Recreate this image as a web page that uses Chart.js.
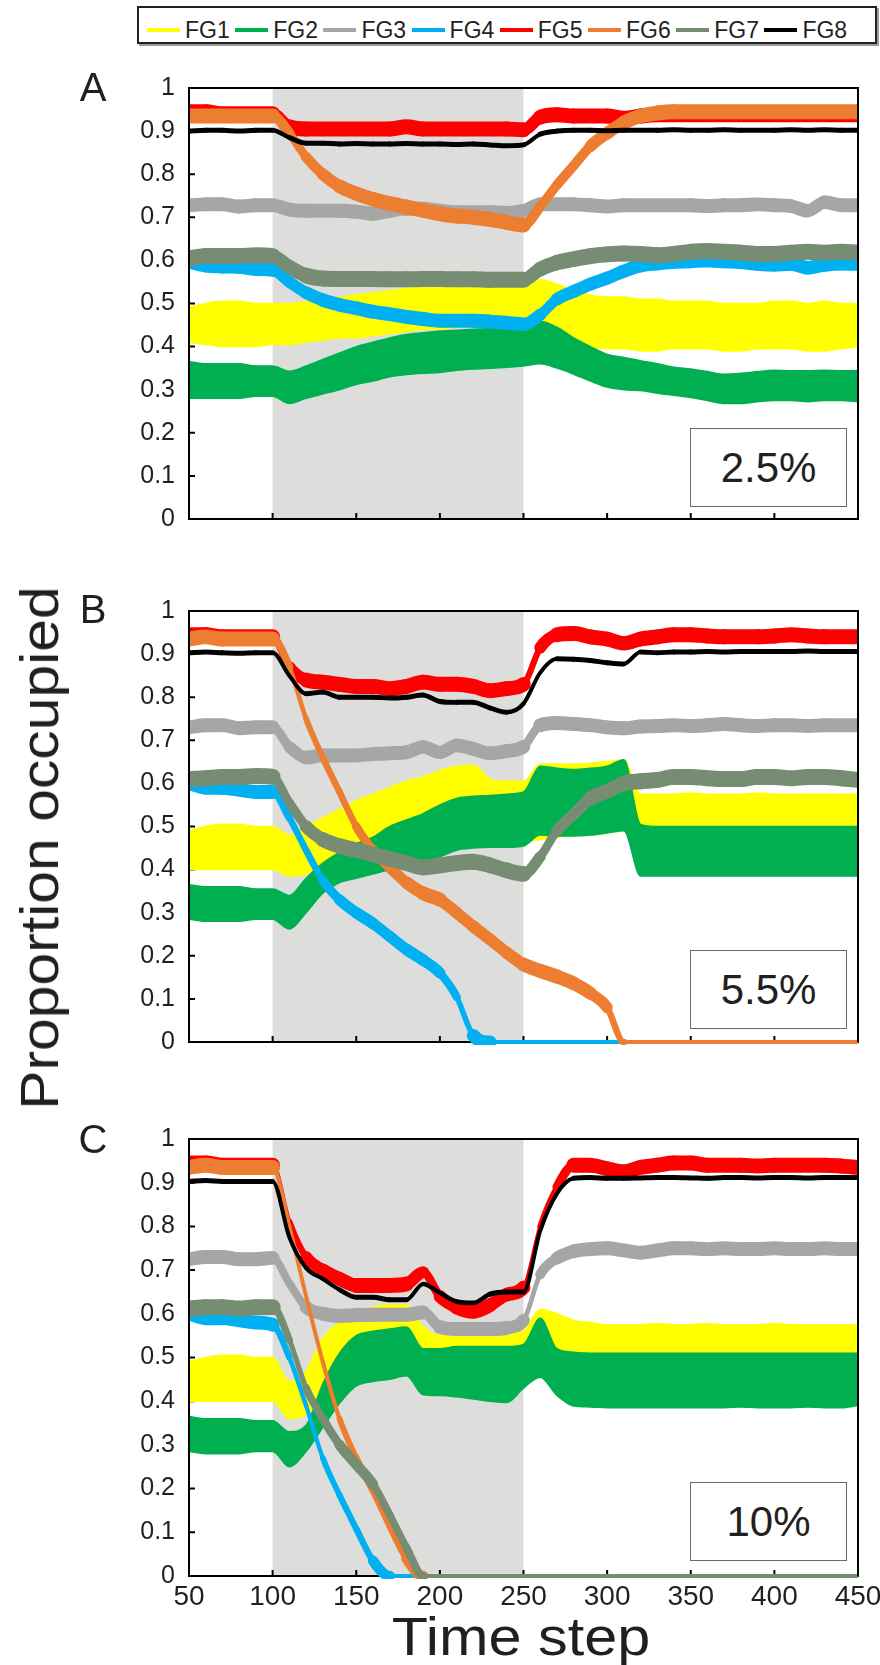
<!DOCTYPE html>
<html>
<head>
<meta charset="utf-8">
<title>Proportion occupied by functional group</title>
<script src="https://cdn.jsdelivr.net/npm/chart.js@4.4.1/dist/chart.umd.min.js"></script>
<style>
  body { margin: 0; background: #fff; }
  #page { position: relative; width: 880px; height: 1665px; overflow: hidden;
          font-family: "Liberation Sans", Arial, sans-serif; color: #231f20; }
  #page canvas { position: absolute; left: 0; }
  #legend { position: absolute; left: 137px; top: 6px; width: 736px; height: 34px;
            border: 2px solid #222; box-shadow: 2px 2px 0 #9a9a9a; background: #fff; }
  .key { position: absolute; top: 20px; width: 33px; height: 4px; }
  .keyText { position: absolute; top: 9px; font-size: 23px; line-height: 26px; }
  .letter { position: absolute; font-size: 40px; line-height: 40px; transform: translate(-50%, -50%); }
  .pct { position: absolute; left: 690px; width: 155px; height: 77px; border: 1.5px solid #6a6a6a;
         background: #fff; display: flex; align-items: center; justify-content: center; font-size: 42px; }
  #ytitle { position: absolute; left: 39px; top: 848px; font-size: 54px; line-height: 54px; white-space: nowrap;
            transform: translate(-50%, -50%) rotate(-90deg) scaleX(1.09); }
  #xtitle { position: absolute; left: 521px; top: 1609px; font-size: 54px; line-height: 54px; white-space: nowrap;
            transform: translateX(-50%) scaleX(1.1); }
</style>
</head>
<body>
<div id="page">
  <div id="legend"></div>
  <canvas id="chartA" width="880" height="500" style="top:48px"></canvas>
  <canvas id="chartB" width="880" height="500" style="top:571px"></canvas>
  <canvas id="chartC" width="880" height="527" style="top:1099px"></canvas>
  <div class="letter" style="left:93px; top:87px">A</div>
  <div class="letter" style="left:93px; top:609px">B</div>
  <div class="letter" style="left:93px; top:1139px">C</div>
  <div class="pct" style="top:428px">2.5%</div>
  <div class="pct" style="top:950px">5.5%</div>
  <div class="pct" style="top:1482px">10%</div>
  <div id="ytitle">Proportion occupied</div>
  <div id="xtitle">Time step</div>
</div>
<script>
// time axis, sampled every 10 steps
const steps = [50, 60, 70, 80, 90, 100, 110, 120, 130, 140, 150, 160, 170, 180, 190, 200,
  210, 220, 230, 240, 250, 260, 270, 280, 290, 300, 310, 320, 330, 340, 350,
  360, 370, 380, 390, 400, 410, 420, 430, 440, 450];
const xTicks = [50, 100, 150, 200, 250, 300, 350, 400, 450];
const yTicks = [0, 0.1, 0.2, 0.3, 0.4, 0.5, 0.6, 0.7, 0.8, 0.9, 1];
const shadeRange = [100, 250];
const groups = ['FG1', 'FG2', 'FG3', 'FG4', 'FG5', 'FG6', 'FG7', 'FG8'];
const groupColors = ['#ffff00', '#00b050', '#a6a6a6', '#00b0f0', '#ff0000', '#ed7d31', '#768d73', '#000000'];

// ---- panel A (2.5%) ----
const fg1LoA = [0.41, 0.405, 0.40, 0.40, 0.40, 0.405, 0.405, 0.41, 0.415, 0.42, 0.42, 0.425, 0.43, 0.435, 0.44, 0.44,
  0.445, 0.445, 0.445, 0.445, 0.44, 0.43, 0.42, 0.41, 0.40, 0.395, 0.395, 0.39, 0.39, 0.395, 0.395,
  0.395, 0.39, 0.39, 0.395, 0.395, 0.395, 0.39, 0.39, 0.395, 0.40];
const fg1HiA = [0.49, 0.50, 0.505, 0.505, 0.50, 0.50, 0.50, 0.505, 0.51, 0.515, 0.52, 0.525, 0.53, 0.535, 0.54, 0.545,
  0.545, 0.545, 0.548, 0.55, 0.55, 0.555, 0.545, 0.53, 0.52, 0.515, 0.515, 0.51, 0.51, 0.505, 0.505,
  0.505, 0.50, 0.50, 0.50, 0.505, 0.505, 0.50, 0.505, 0.50, 0.50];
const fg2LoA = [0.28, 0.28, 0.28, 0.28, 0.285, 0.285, 0.268, 0.28, 0.29, 0.30, 0.312, 0.32, 0.33, 0.335, 0.338, 0.34,
  0.345, 0.348, 0.35, 0.352, 0.355, 0.36, 0.35, 0.336, 0.32, 0.306, 0.30, 0.298, 0.292, 0.287, 0.282,
  0.275, 0.268, 0.268, 0.272, 0.275, 0.275, 0.272, 0.275, 0.275, 0.272];
const fg2HiA = [0.365, 0.36, 0.36, 0.36, 0.355, 0.355, 0.343, 0.355, 0.37, 0.385, 0.40, 0.41, 0.42, 0.428, 0.432, 0.436,
  0.438, 0.44, 0.442, 0.445, 0.448, 0.458, 0.445, 0.42, 0.40, 0.382, 0.375, 0.367, 0.36, 0.352, 0.348,
  0.342, 0.336, 0.338, 0.342, 0.345, 0.344, 0.344, 0.345, 0.344, 0.344];
const fg3A = [0.728, 0.73, 0.73, 0.725, 0.728, 0.728, 0.718, 0.715, 0.715, 0.715, 0.713, 0.708, 0.715, 0.72, 0.72, 0.715,
  0.712, 0.712, 0.712, 0.71, 0.715, 0.73, 0.73, 0.73, 0.728, 0.725, 0.728, 0.728, 0.728, 0.728, 0.728,
  0.726, 0.728, 0.728, 0.73, 0.728, 0.726, 0.715, 0.735, 0.728, 0.728];
const fg4A = [0.597, 0.588, 0.586, 0.585, 0.58, 0.578, 0.55, 0.525, 0.508, 0.497, 0.489, 0.481, 0.475, 0.469, 0.464, 0.46,
  0.46, 0.46, 0.458, 0.455, 0.452, 0.474, 0.51, 0.528, 0.545, 0.559, 0.575, 0.588, 0.593, 0.597, 0.598,
  0.60, 0.598, 0.596, 0.592, 0.59, 0.592, 0.583, 0.59, 0.593, 0.592];
const fg5A = [0.945, 0.945, 0.94, 0.94, 0.94, 0.94, 0.91, 0.905, 0.905, 0.905, 0.905, 0.905, 0.905, 0.91, 0.905, 0.905,
  0.905, 0.905, 0.905, 0.905, 0.903, 0.932, 0.938, 0.935, 0.935, 0.935, 0.93, 0.935, 0.938, 0.938, 0.938,
  0.938, 0.938, 0.938, 0.938, 0.938, 0.938, 0.938, 0.938, 0.938, 0.938];
const fg6A = [0.935, 0.935, 0.935, 0.935, 0.935, 0.935, 0.895, 0.84, 0.80, 0.772, 0.755, 0.742, 0.732, 0.724, 0.716, 0.708,
  0.703, 0.70, 0.695, 0.688, 0.682, 0.725, 0.775, 0.82, 0.865, 0.895, 0.92, 0.935, 0.942, 0.945, 0.945,
  0.945, 0.945, 0.945, 0.945, 0.945, 0.945, 0.945, 0.945, 0.945, 0.945];
const fg7A = [0.605, 0.61, 0.61, 0.61, 0.612, 0.61, 0.585, 0.565, 0.558, 0.557, 0.557, 0.557, 0.556, 0.556, 0.557, 0.557,
  0.556, 0.556, 0.555, 0.555, 0.555, 0.58, 0.595, 0.603, 0.61, 0.614, 0.616, 0.615, 0.612, 0.615, 0.62,
  0.622, 0.62, 0.618, 0.615, 0.615, 0.618, 0.62, 0.618, 0.62, 0.618];
const fg8A = [0.90, 0.902, 0.902, 0.90, 0.902, 0.902, 0.885, 0.872, 0.872, 0.87, 0.871, 0.87, 0.87, 0.871, 0.87, 0.87,
  0.869, 0.87, 0.868, 0.866, 0.868, 0.893, 0.90, 0.902, 0.902, 0.901, 0.902, 0.902, 0.902, 0.903, 0.902,
  0.902, 0.903, 0.902, 0.902, 0.902, 0.903, 0.902, 0.903, 0.902, 0.902];

// ---- panel B (5.5%) ----
const fg1LoB = [0.40, 0.40, 0.40, 0.40, 0.40, 0.40, 0.385, 0.39, 0.40, 0.41, 0.425, 0.435, 0.445, 0.455, 0.46, 0.465,
  0.47, 0.475, 0.475, 0.47, 0.465, 0.47, 0.475, 0.48, 0.48, 0.485, 0.49, 0.50, 0.50, 0.50, 0.50,
  0.50, 0.50, 0.50, 0.50, 0.50, 0.50, 0.50, 0.50, 0.50, 0.50];
const fg1HiB = [0.49, 0.50, 0.505, 0.505, 0.50, 0.50, 0.48, 0.50, 0.52, 0.54, 0.56, 0.575, 0.59, 0.605, 0.615, 0.63,
  0.64, 0.642, 0.61, 0.605, 0.605, 0.645, 0.645, 0.645, 0.647, 0.65, 0.655, 0.575, 0.575, 0.575, 0.578,
  0.575, 0.575, 0.575, 0.578, 0.575, 0.575, 0.575, 0.575, 0.575, 0.575];
const fg2LoB = [0.285, 0.28, 0.28, 0.28, 0.285, 0.285, 0.262, 0.30, 0.345, 0.37, 0.38, 0.39, 0.40, 0.41, 0.42, 0.43,
  0.445, 0.45, 0.452, 0.452, 0.455, 0.48, 0.478, 0.478, 0.48, 0.485, 0.49, 0.385, 0.385, 0.385, 0.385,
  0.385, 0.385, 0.385, 0.385, 0.385, 0.385, 0.385, 0.385, 0.385, 0.385];
const fg2HiB = [0.365, 0.36, 0.36, 0.36, 0.355, 0.355, 0.34, 0.38, 0.415, 0.44, 0.46, 0.475, 0.50, 0.515, 0.53, 0.55,
  0.565, 0.57, 0.572, 0.575, 0.58, 0.64, 0.635, 0.632, 0.635, 0.64, 0.655, 0.505, 0.50, 0.50, 0.50,
  0.50, 0.50, 0.50, 0.50, 0.50, 0.50, 0.50, 0.50, 0.50, 0.50];
const fg3B = [0.73, 0.735, 0.735, 0.728, 0.73, 0.73, 0.685, 0.66, 0.665, 0.665, 0.665, 0.668, 0.67, 0.672, 0.685, 0.672,
  0.688, 0.68, 0.67, 0.675, 0.685, 0.735, 0.74, 0.738, 0.735, 0.73, 0.728, 0.732, 0.733, 0.735, 0.733,
  0.735, 0.738, 0.735, 0.733, 0.735, 0.735, 0.733, 0.735, 0.735, 0.735];
const fg4B = [0.60, 0.59, 0.59, 0.585, 0.58, 0.58, 0.52, 0.445, 0.375, 0.33, 0.30, 0.275, 0.245, 0.215, 0.19, 0.16,
  0.105, 0.015, 0, 0, 0, 0, 0, 0, 0, 0, 0, 0, 0, 0, 0,
  0, 0, 0, 0, 0, 0, 0, 0, 0, 0];
const fg5B = [0.945, 0.945, 0.94, 0.94, 0.94, 0.94, 0.87, 0.84, 0.835, 0.83, 0.825, 0.825, 0.82, 0.825, 0.835, 0.83,
  0.83, 0.825, 0.815, 0.82, 0.83, 0.915, 0.945, 0.948, 0.94, 0.935, 0.925, 0.935, 0.94, 0.945, 0.945,
  0.942, 0.94, 0.94, 0.94, 0.942, 0.945, 0.942, 0.94, 0.94, 0.94];
const fg6B = [0.935, 0.94, 0.935, 0.935, 0.935, 0.935, 0.87, 0.75, 0.66, 0.58, 0.50, 0.445, 0.405, 0.37, 0.345, 0.33,
  0.30, 0.268, 0.238, 0.207, 0.18, 0.165, 0.152, 0.136, 0.113, 0.08, 0, 0, 0, 0, 0,
  0, 0, 0, 0, 0, 0, 0, 0, 0, 0];
const fg7B = [0.61, 0.612, 0.615, 0.615, 0.617, 0.615, 0.555, 0.50, 0.47, 0.455, 0.445, 0.435, 0.425, 0.415, 0.405, 0.41,
  0.415, 0.418, 0.41, 0.398, 0.39, 0.43, 0.49, 0.528, 0.565, 0.582, 0.60, 0.605, 0.608, 0.615, 0.615,
  0.612, 0.61, 0.61, 0.615, 0.615, 0.612, 0.615, 0.615, 0.612, 0.608];
const fg8B = [0.903, 0.905, 0.903, 0.902, 0.903, 0.903, 0.85, 0.808, 0.812, 0.80, 0.80, 0.80, 0.798, 0.80, 0.805, 0.79,
  0.788, 0.788, 0.775, 0.765, 0.785, 0.857, 0.889, 0.888, 0.885, 0.88, 0.877, 0.905, 0.903, 0.905, 0.905,
  0.906, 0.905, 0.906, 0.906, 0.906, 0.906, 0.907, 0.906, 0.906, 0.906];

// ---- panel C (10%) ----
const fg1LoC = [0.40, 0.40, 0.40, 0.40, 0.40, 0.40, 0.36, 0.37, 0.41, 0.43, 0.44, 0.45, 0.455, 0.46, 0.44, 0.43,
  0.43, 0.43, 0.43, 0.43, 0.44, 0.46, 0.455, 0.45, 0.445, 0.445, 0.445, 0.445, 0.445, 0.445, 0.445,
  0.445, 0.445, 0.445, 0.445, 0.445, 0.445, 0.445, 0.445, 0.445, 0.445];
const fg1HiC = [0.49, 0.50, 0.505, 0.505, 0.50, 0.50, 0.445, 0.47, 0.545, 0.58, 0.60, 0.615, 0.62, 0.62, 0.57, 0.55,
  0.55, 0.55, 0.555, 0.555, 0.56, 0.61, 0.60, 0.585, 0.58, 0.575, 0.575, 0.575, 0.578, 0.575, 0.575,
  0.578, 0.575, 0.575, 0.575, 0.578, 0.575, 0.575, 0.575, 0.575, 0.575];
const fg2LoC = [0.285, 0.28, 0.28, 0.28, 0.285, 0.285, 0.25, 0.285, 0.34, 0.395, 0.435, 0.445, 0.45, 0.458, 0.415, 0.413,
  0.41, 0.405, 0.40, 0.397, 0.43, 0.455, 0.413, 0.389, 0.387, 0.385, 0.385, 0.385, 0.385, 0.385, 0.385,
  0.385, 0.385, 0.387, 0.385, 0.385, 0.385, 0.387, 0.385, 0.385, 0.39];
const fg2HiC = [0.365, 0.36, 0.36, 0.36, 0.355, 0.355, 0.33, 0.345, 0.44, 0.51, 0.55, 0.56, 0.565, 0.57, 0.52, 0.52,
  0.525, 0.525, 0.525, 0.525, 0.53, 0.59, 0.52, 0.512, 0.51, 0.51, 0.51, 0.51, 0.51, 0.51, 0.51,
  0.51, 0.51, 0.51, 0.51, 0.51, 0.51, 0.51, 0.51, 0.51, 0.51];
const fg3C = [0.725, 0.73, 0.73, 0.725, 0.725, 0.728, 0.67, 0.615, 0.60, 0.595, 0.597, 0.598, 0.598, 0.598, 0.603, 0.57,
  0.565, 0.565, 0.565, 0.568, 0.585, 0.69, 0.727, 0.743, 0.748, 0.75, 0.745, 0.74, 0.745, 0.75, 0.75,
  0.748, 0.75, 0.748, 0.748, 0.75, 0.748, 0.748, 0.75, 0.748, 0.748];
const fg4C = [0.60, 0.59, 0.59, 0.585, 0.58, 0.575, 0.50, 0.39, 0.27, 0.185, 0.108, 0.035, 0, 0, 0, 0,
  0, 0, 0, 0, 0, 0, 0, 0, 0, 0, 0, 0, 0, 0, 0,
  0, 0, 0, 0, 0, 0, 0, 0, 0, 0];
const fg5C = [0.945, 0.945, 0.94, 0.94, 0.94, 0.94, 0.81, 0.73, 0.70, 0.68, 0.665, 0.665, 0.665, 0.668, 0.695, 0.64,
  0.615, 0.605, 0.62, 0.644, 0.66, 0.80, 0.89, 0.94, 0.94, 0.932, 0.925, 0.935, 0.94, 0.945, 0.945,
  0.94, 0.94, 0.94, 0.938, 0.94, 0.94, 0.94, 0.94, 0.938, 0.935];
const fg6C = [0.935, 0.94, 0.935, 0.935, 0.935, 0.935, 0.80, 0.64, 0.49, 0.36, 0.27, 0.195, 0.115, 0.04, 0, 0,
  0, 0, 0, 0, 0, 0, 0, 0, 0, 0, 0, 0, 0, 0, 0,
  0, 0, 0, 0, 0, 0, 0, 0, 0, 0];
const fg7C = [0.612, 0.615, 0.615, 0.612, 0.615, 0.615, 0.54, 0.43, 0.36, 0.30, 0.255, 0.21, 0.14, 0.065, 0, 0,
  0, 0, 0, 0, 0, 0, 0, 0, 0, 0, 0, 0, 0, 0, 0,
  0, 0, 0, 0, 0, 0, 0, 0, 0, 0];
const fg8C = [0.903, 0.905, 0.903, 0.903, 0.903, 0.903, 0.775, 0.705, 0.68, 0.655, 0.638, 0.638, 0.632, 0.632, 0.668, 0.648,
  0.628, 0.625, 0.645, 0.65, 0.65, 0.79, 0.875, 0.91, 0.912, 0.91, 0.91, 0.911, 0.912, 0.912, 0.911,
  0.91, 0.912, 0.912, 0.911, 0.912, 0.912, 0.911, 0.912, 0.912, 0.912];

// styling
const textColor = '#231f20';
const shadeColor = '#dddddb';
const bandThickness = [0, 0, 14, 14, 15, 15, 16, 5];   // vertical spread of the oscillating lines, px
const tailWidth = 4;
const lineClip = { left: 0, top: 0, right: 0, bottom: 3 };

Chart.defaults.font.family = '"Liberation Sans", Arial, sans-serif';
Chart.defaults.color = textColor;

// legend strip across the top
const legendEl = document.getElementById('legend');
groups.forEach((g, i) => {
  const left = 8 + i * 88.2;
  const key = document.createElement('div');
  key.className = 'key';
  key.style.left = left + 'px';
  key.style.background = groupColors[i];
  legendEl.appendChild(key);
  const txt = document.createElement('div');
  txt.className = 'keyText';
  txt.style.left = (left + 38) + 'px';
  txt.textContent = g;
  legendEl.appendChild(txt);
});

function toPoints(vals) {
  return steps.map((t, i) => ({ x: t, y: vals[i] }));
}

function bandSets(name, lo, hi, color) {
  const common = { borderColor: color, borderWidth: 1.5, pointRadius: 0,
    cubicInterpolationMode: 'monotone', clip: lineClip };
  return [
    { ...common, label: name + ' low', data: toPoints(lo), fill: false },
    { ...common, label: name + ' high', data: toPoints(hi), fill: '-1', backgroundColor: color }
  ];
}

function lineSet(name, vals, color, thick) {
  return {
    label: name, data: toPoints(vals), borderColor: color, borderWidth: thick,
    borderCapStyle: 'round', borderJoinStyle: 'round', pointRadius: 0, fill: false,
    cubicInterpolationMode: 'monotone', clip: lineClip,
    segment: {
      // the oscillation is vertical, so a steep stretch looks thinner; extinct stretches are a plain line
      borderWidth: c => {
        if (vals[c.p0DataIndex] === 0 && vals[c.p1DataIndex] === 0) return tailWidth;
        const dx = c.p1.x - c.p0.x, dy = c.p1.y - c.p0.y;
        return Math.max(tailWidth, thick * Math.abs(dx) / Math.hypot(dx, dy));
      }
    }
  };
}

function panelDatasets(lo1, hi1, lo2, hi2, rest) {
  const sets = [
    ...bandSets(groups[0], lo1, hi1, groupColors[0]),
    ...bandSets(groups[1], lo2, hi2, groupColors[1])
  ];
  rest.forEach((vals, k) => sets.push(lineSet(groups[k + 2], vals, groupColors[k + 2], bandThickness[k + 2])));
  // first group drawn first, last group on top
  sets.forEach((s, i) => { s.order = sets.length - i; });
  return sets;
}

const framePlugin = {
  id: 'frame',
  beforeDatasetsDraw(chart) {
    const { ctx, chartArea: a, scales: { x, y } } = chart;
    ctx.save();
    const x0 = x.getPixelForValue(shadeRange[0]);
    const x1 = x.getPixelForValue(shadeRange[1]);
    ctx.fillStyle = shadeColor;
    ctx.fillRect(x0, a.top, x1 - x0, a.bottom - a.top);
    ctx.strokeStyle = '#000';
    ctx.lineWidth = 2;
    ctx.beginPath();
    xTicks.forEach(v => {
      const px = x.getPixelForValue(v);
      ctx.moveTo(px, a.bottom);
      ctx.lineTo(px, a.bottom - 6);
    });
    yTicks.forEach(v => {
      const py = y.getPixelForValue(v);
      ctx.moveTo(a.left, py);
      ctx.lineTo(a.left + 6, py);
    });
    ctx.moveTo(a.left - 1, a.bottom);
    ctx.lineTo(a.right + 1, a.bottom);
    ctx.stroke();
    ctx.restore();
  },
  afterDatasetsDraw(chart) {
    const { ctx, chartArea: a } = chart;
    ctx.save();
    ctx.strokeStyle = '#000';
    ctx.lineWidth = 2;
    ctx.beginPath();
    ctx.moveTo(a.left, a.bottom);
    ctx.lineTo(a.left, a.top);
    ctx.lineTo(a.right, a.top);
    ctx.lineTo(a.right, a.bottom);
    ctx.stroke();
    ctx.restore();
  }
};

function makeChart(id, datasets, showX) {
  return new Chart(document.getElementById(id), {
    type: 'line',
    data: { datasets },
    plugins: [framePlugin],
    options: {
      responsive: false,
      animation: false,
      events: [],
      layout: { padding: { top: 40, right: 22, bottom: 0, left: 0 } },
      plugins: {
        legend: { display: false },
        tooltip: { enabled: false },
        filler: { drawTime: 'beforeDatasetDraw' }
      },
      scales: {
        x: {
          type: 'linear', min: 50, max: 450,
          ticks: { display: showX, stepSize: 50, padding: 4, font: { size: 28 }, color: textColor,
                   maxRotation: 0, callback: v => String(v) },
          grid: { display: false, drawTicks: false },
          border: { display: false },
          afterFit: s => {
            s.height = showX ? 50 : 25;
            // keep the plot the same width in every panel; the end labels may hang over the margin
            s.paddingLeft = 0;
            s.paddingRight = 0;
          }
        },
        y: {
          min: 0, max: 1,
          ticks: { stepSize: 0.1, padding: 14, font: { size: 25 }, color: textColor,
                   callback: v => String(+v.toFixed(1)) },
          grid: { display: false, drawTicks: false },
          border: { display: false },
          afterFit: s => { s.width = 189; }
        }
      }
    }
  });
}

makeChart('chartA', panelDatasets(fg1LoA, fg1HiA, fg2LoA, fg2HiA, [fg3A, fg4A, fg5A, fg6A, fg7A, fg8A]), false);
makeChart('chartB', panelDatasets(fg1LoB, fg1HiB, fg2LoB, fg2HiB, [fg3B, fg4B, fg5B, fg6B, fg7B, fg8B]), false);
makeChart('chartC', panelDatasets(fg1LoC, fg1HiC, fg2LoC, fg2HiC, [fg3C, fg4C, fg5C, fg6C, fg7C, fg8C]), true);
</script>
</body>
</html>
